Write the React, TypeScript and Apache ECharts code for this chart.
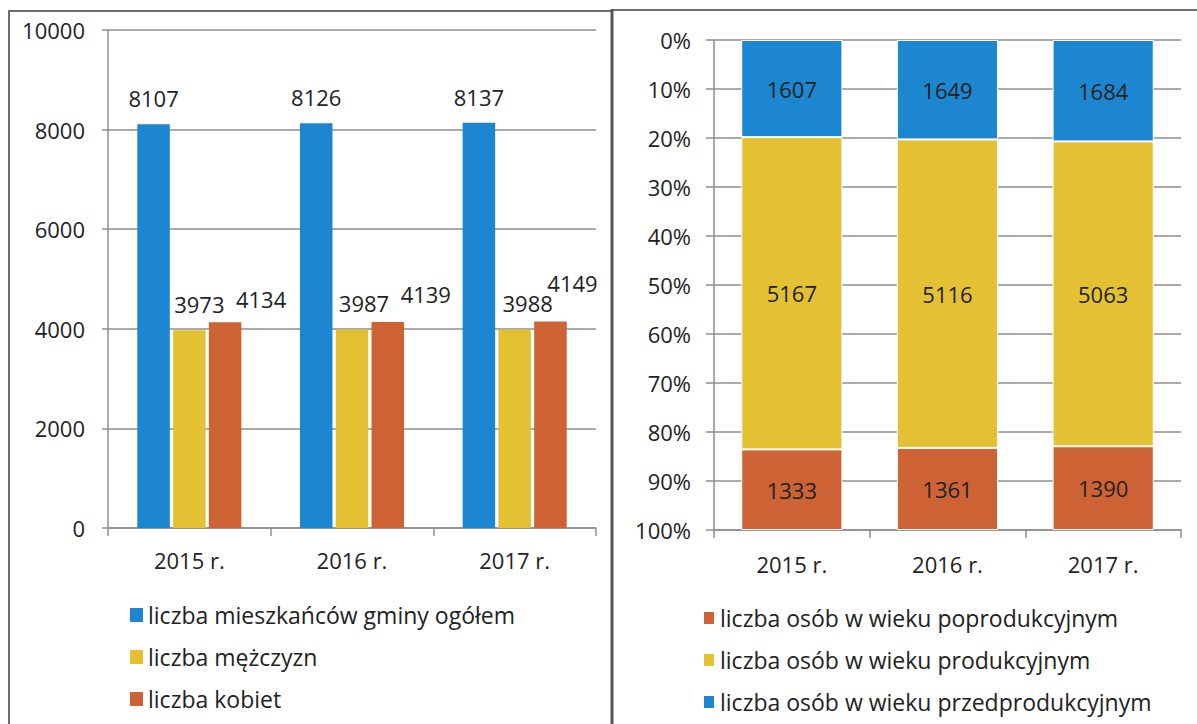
import React, { useEffect, useRef } from "react";
import * as echarts from "echarts";

const years = ["2015 r.", "2016 r.", "2017 r."];
const totalResidents = [8107, 8126, 8137];
const men = [3973, 3987, 3988];
const women = [4134, 4139, 4149];
const preProductive = [1607, 1649, 1684];
const productive = [5167, 5116, 5063];
const postProductive = [1333, 1361, 1390];
const leftMax = 10000;
const leftInterval = 2000;
const nameTotal = "liczba mieszkańców gminy ogółem";
const nameMen = "liczba mężczyzn";
const nameWomen = "liczba kobiet";
const namePost = "liczba osób w wieku poprodukcyjnym";
const nameProd = "liczba osób w wieku produkcyjnym";
const namePre = "liczba osób w wieku przedprodukcyjnym";

// label offsets (style only)
const menLabelOffset = [[10, 0], [12, 0], [13, 0]];
const womenLabelOffset = [[36, 3], [38, -2], [22, -12]];

const BLUE = "#1c86d0";
const YELLOW = "#e4c132";
const ORANGE = "#cd6234";
const TEXT = "#222222";
const GRID = "#8e8e8e";
const FONT = "'Open Sans', Lato, sans-serif";
const FS = 22;
const LEGEND_FS = 23;

export default function App() {
  const ref = useRef<HTMLDivElement>(null);
  useEffect(() => {
    if (!ref.current) return;
    const chart = echarts.init(ref.current, null, { renderer: "svg" });
    const sums = years.map((_, i) => preProductive[i] + productive[i] + postProductive[i]);
    const pct = (arr: number[]) => arr.map((v, i) => (v / sums[i]) * 100);
    const labelBase = { color: TEXT, fontSize: FS, fontFamily: FONT };
    const legendText = { fontSize: LEGEND_FS, lineHeight: 24, color: TEXT, fontFamily: FONT };
    const option: any = {
      animation: false,
      backgroundColor: "#ffffff",
      textStyle: { fontFamily: FONT, color: TEXT },
      graphic: [
        { type: "rect", shape: { x: 9, y: 11, width: 603, height: 740 }, style: { fill: "none", stroke: "#6e6e6e", lineWidth: 2 } },
        { type: "line", shape: { x1: 612, y1: 10, x2: 1197, y2: 10 }, style: { stroke: "#6e6e6e", lineWidth: 2 } },
        { type: "line", shape: { x1: 612, y1: 9, x2: 612, y2: 724 }, style: { stroke: "#555555", lineWidth: 3 } },
      ],
      grid: [
        { left: 108, top: 30, width: 488, height: 498 },
        { left: 714, top: 40, width: 467, height: 490 },
      ],
      legend: [
        {
          orient: "vertical",
          left: 125,
          top: 598,
          itemWidth: 13,
          itemHeight: 14,
          itemGap: 18,
          icon: "rect",
          textStyle: legendText,
          data: [nameTotal, nameMen, nameWomen],
        },
        {
          orient: "vertical",
          left: 697,
          top: 601,
          itemWidth: 12,
          itemHeight: 14,
          itemGap: 18,
          icon: "rect",
          textStyle: legendText,
          data: [namePost, nameProd, namePre],
        },
      ],
      xAxis: [
        {
          type: "category",
          gridIndex: 0,
          data: years,
          axisLine: { show: true, lineStyle: { color: GRID, width: 1.5 } },
          axisTick: { show: true, length: 8, lineStyle: { color: GRID, width: 1.5 } },
          axisLabel: { color: TEXT, fontSize: FS, margin: 21, fontFamily: FONT },
        },
        {
          type: "category",
          gridIndex: 1,
          data: years,
          axisLine: { show: true, onZero: false, lineStyle: { color: GRID, width: 1.5 } },
          axisTick: { show: true, length: 8, lineStyle: { color: GRID, width: 1.5 } },
          axisLabel: { color: TEXT, fontSize: FS, margin: 23, fontFamily: FONT },
        },
      ],
      yAxis: [
        {
          type: "value",
          gridIndex: 0,
          min: 0,
          max: leftMax,
          interval: leftInterval,
          axisLine: { show: true, lineStyle: { color: GRID, width: 1.5 } },
          axisTick: { show: true, length: 6, lineStyle: { color: GRID, width: 1.5 } },
          splitLine: { show: true, lineStyle: { color: GRID, width: 1.5 } },
          axisLabel: { color: TEXT, fontSize: FS, margin: 23, fontFamily: FONT, formatter: (v: number) => String(v) },
        },
        {
          type: "value",
          gridIndex: 1,
          min: 0,
          max: 100,
          interval: 10,
          inverse: true,
          axisLine: { show: true, lineStyle: { color: GRID, width: 1.5 } },
          axisTick: { show: true, length: 8, lineStyle: { color: GRID, width: 1.5 } },
          splitLine: { show: true, lineStyle: { color: GRID, width: 1.5 } },
          axisLabel: { color: TEXT, fontSize: FS, margin: 23, fontFamily: FONT, formatter: "{value}%" },
        },
      ],
      series: [
        {
          name: nameTotal,
          type: "bar",
          xAxisIndex: 0,
          yAxisIndex: 0,
          barCategoryGap: "36%",
          barGap: "10%",
          itemStyle: { color: BLUE },
          label: { show: true, position: "top", distance: 15, ...labelBase },
          data: totalResidents,
        },
        {
          name: nameMen,
          type: "bar",
          xAxisIndex: 0,
          yAxisIndex: 0,
          barCategoryGap: "36%",
          barGap: "10%",
          itemStyle: { color: YELLOW },
          data: men.map((v, i) => ({
            value: v,
            label: { show: true, position: "top", distance: 15, offset: menLabelOffset[i], ...labelBase },
          })),
        },
        {
          name: nameWomen,
          type: "bar",
          xAxisIndex: 0,
          yAxisIndex: 0,
          barCategoryGap: "36%",
          barGap: "10%",
          itemStyle: { color: ORANGE },
          data: women.map((v, i) => ({
            value: v,
            label: { show: true, position: "top", distance: 15, offset: womenLabelOffset[i], ...labelBase },
          })),
        },
        {
          name: namePre,
          type: "bar",
          stack: "age",
          xAxisIndex: 1,
          yAxisIndex: 1,
          barCategoryGap: "35%",
          itemStyle: { color: BLUE, borderColor: "#ffffff", borderWidth: 1 },
          label: { show: true, position: "inside", ...labelBase, formatter: (p: any) => String(preProductive[p.dataIndex]) },
          data: pct(preProductive),
        },
        {
          name: nameProd,
          type: "bar",
          stack: "age",
          xAxisIndex: 1,
          yAxisIndex: 1,
          barCategoryGap: "35%",
          itemStyle: { color: YELLOW, borderColor: "#ffffff", borderWidth: 1 },
          label: { show: true, position: "inside", ...labelBase, formatter: (p: any) => String(productive[p.dataIndex]) },
          data: pct(productive),
        },
        {
          name: namePost,
          type: "bar",
          stack: "age",
          xAxisIndex: 1,
          yAxisIndex: 1,
          barCategoryGap: "35%",
          itemStyle: { color: ORANGE, borderColor: "#ffffff", borderWidth: 1 },
          label: { show: true, position: "inside", ...labelBase, formatter: (p: any) => String(postProductive[p.dataIndex]) },
          data: pct(postProductive),
        },
      ],
    };
    chart.setOption(option);
    return () => chart.dispose();
  }, []);
  return (
    <div
      ref={ref}
      style={{ position: "absolute", left: 0, top: 0, width: 1197, height: 724, background: "#ffffff" }}
    />
  );
}
